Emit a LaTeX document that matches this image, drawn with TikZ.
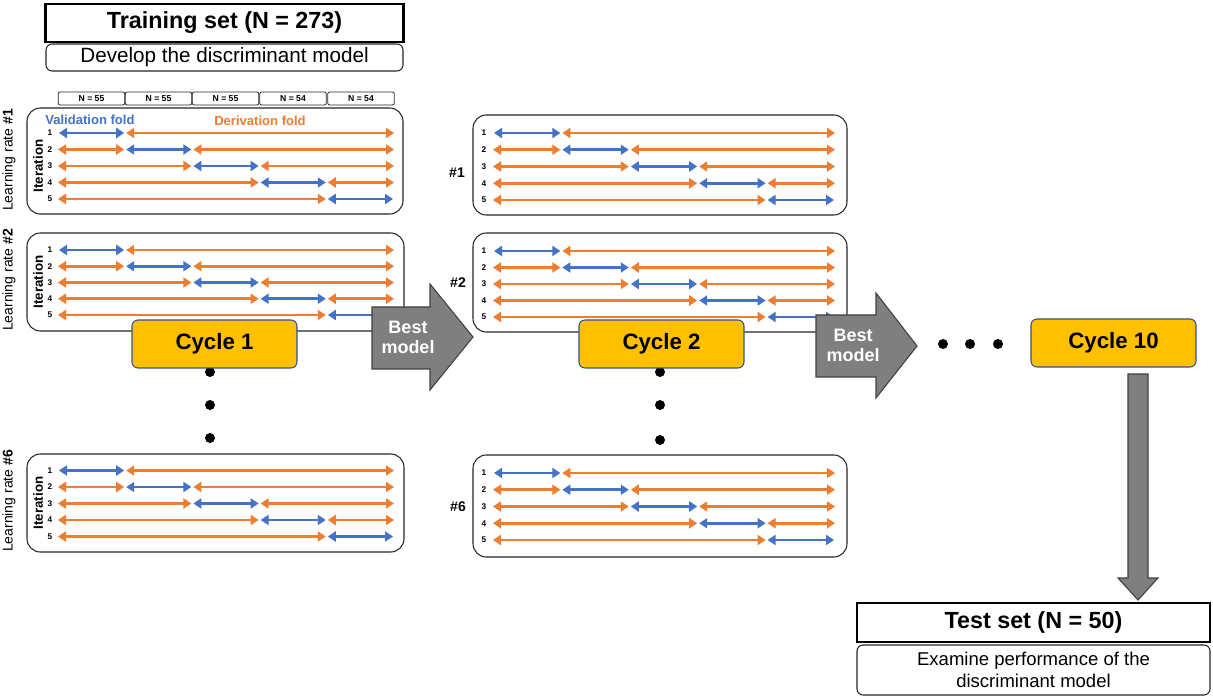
\documentclass[tikz,border=0pt]{standalone}
\usepackage{fontspec}
\setmainfont{Liberation Sans}
\usetikzlibrary{arrows.meta}
\definecolor{fblue}{HTML}{4472C4}
\definecolor{forange}{HTML}{ED7D31}
\definecolor{cycfill}{HTML}{FFC000}
\definecolor{cycdraw}{HTML}{2F528F}
\definecolor{bgray}{HTML}{7F7F7F}
\newcommand{\foldrows}[5]{% #1 xs, #2 xe, #3 y1, #4 dy, #5 number offset
  \foreach \i in {1,...,5}{
    \pgfmathsetmacro{\yy}{#3+(\i-1)*#4}
    \pgfmathsetmacro{\xa}{#1+(\i-1)*(#2-#1)/5}
    \pgfmathsetmacro{\xb}{#1+\i*(#2-#1)/5}
    \node[rownum] at (#1-#5,\yy) {\i};
    \ifnum\i>1 \draw[orangearr] (#1,\yy) -- (\xa-1,\yy); \fi
    \draw[bluearr] (\xa+1,\yy) -- (\xb-1,\yy);
    \ifnum\i<5 \draw[orangearr] (\xb+1,\yy) -- (#2,\yy); \fi
  }}
\begin{document}
\begin{tikzpicture}[x=0.75pt,y=-0.75pt,
  foldarr/.style={line width=2pt,{Triangle[length=6pt,width=7.5pt]}-{Triangle[length=6pt,width=7.5pt]}},
  bluearr/.style={foldarr,draw=fblue},
  orangearr/.style={foldarr,draw=forange},
  rownum/.style={font=\bfseries\fontsize{6.2}{7}\selectfont,inner sep=0pt},
  panelbox/.style={draw=black!85,line width=0.8pt,rounded corners=10pt,fill=white},
  titlebox/.style={draw=black,line width=2.2pt,fill=white,inner sep=0pt,font=\bfseries\fontsize{17.5}{21}\selectfont},
  descbox/.style={draw=black!85,line width=0.8pt,rounded corners=4.5pt,fill=white,inner sep=0pt},
  nbox/.style={draw=black!85,line width=0.6pt,rounded corners=1.5pt,minimum width=50pt,minimum height=9.75pt,inner sep=0pt,font=\bfseries\fontsize{6.5}{7}\selectfont},
  cycbox/.style={draw=cycdraw,line width=0.8pt,fill=cycfill,rounded corners=4.5pt,minimum width=123.75pt,minimum height=36pt,inner sep=0pt,font=\bfseries\fontsize{16.7}{20}\selectfont},
  bigarrow/.style={draw=black!75,line width=0.8pt,fill=bgray},
  besttext/.style={text=white,align=center,inner sep=0pt,font=\bfseries\fontsize{13.5}{15}\selectfont},
  lrlabel/.style={rotate=90,inner sep=0pt,font=\fontsize{10.5}{12}\selectfont},
  iterlabel/.style={rotate=90,inner sep=0pt,font=\bfseries\fontsize{10}{12}\selectfont},
  hashlabel/.style={inner sep=0pt,font=\bfseries\fontsize{10.5}{12}\selectfont},
  bigdot/.style={circle,fill=black,inner sep=0pt,minimum size=7.5pt}]
\useasboundingbox (0,0) rectangle (1213,698);

% Training set
\node[titlebox,minimum width=269pt,minimum height=28.5pt] (train) at (224.5,23) {Training set (N = 273)};
\node[descbox,minimum width=267.75pt,minimum height=20.25pt,font=\fontsize{15.5}{18}\selectfont] (develop) at (224.5,57.5) {Develop the discriminant model};

% N boxes
\foreach \cx/\nn [count=\k] in {91.5/55,158.5/55,225.5/55,293/54,361/54}
  \node[nbox] (n\k) at (\cx,98.5) {N = \nn};

% Column 1 panels
\draw[panelbox] (27,108) rectangle (403,214);
\node[anchor=base west,inner sep=0pt,text=fblue,font=\bfseries\fontsize{9.8}{12}\selectfont] (valid) at (45,125) {Validation fold};
\node[anchor=base,inner sep=0pt,text=forange,font=\bfseries\fontsize{9.8}{12}\selectfont] (deriv) at (260,126) {Derivation fold};
\foldrows{58}{394}{133}{16.5}{8}
\node[iterlabel] (it1) at (38,166) {Iteration};
\node[lrlabel] (lr1) at (9,160) {Learning rate \textbf{\#1}};

\draw[panelbox] (27,233) rectangle (404,331);
\foldrows{58}{394}{250}{16.25}{8}
\node[iterlabel] (it2) at (38,282) {Iteration};
\node[lrlabel] (lr2) at (9,280) {Learning rate \textbf{\#2}};

\draw[panelbox] (27,454) rectangle (404,552);
\foldrows{58}{394}{470.5}{16.5}{8}
\node[iterlabel] (it6) at (38,503) {Iteration};
\node[lrlabel] (lr6) at (9,501) {Learning rate \textbf{\#6}};

% Column 2 panels
\draw[panelbox] (473,115) rectangle (847,215);
\foldrows{493}{835}{133}{16.75}{9}
\node[hashlabel] (h1) at (457,173) {\#1};

\draw[panelbox] (473,233) rectangle (847,332);
\foldrows{493}{835}{251}{16.5}{9}
\node[hashlabel] (h2) at (458,283) {\#2};

\draw[panelbox] (473,455) rectangle (847,557);
\foldrows{493}{835}{473}{16.75}{9}
\node[hashlabel] (h6) at (458,507) {\#6};

% dots
\node[bigdot] (d11) at (210,372) {};
\node[bigdot] (d12) at (210,405) {};
\node[bigdot] (d13) at (210,438) {};
\node[bigdot] (d21) at (660,372) {};
\node[bigdot] (d22) at (660,405) {};
\node[bigdot] (d23) at (660,440) {};
\node[bigdot] (h31) at (943,344) {};
\node[bigdot] (h32) at (970,344) {};
\node[bigdot] (h33) at (998,344) {};

% cycles
\node[cycbox] (c1) at (214.5,344) {Cycle 1};
\node[cycbox] (c2) at (661.5,344) {Cycle 2};
\node[cycbox] (c10) at (1113.5,343) {Cycle 10};

% best model arrows
\draw[bigarrow] (372,307) -- (430,307) -- (430,284) -- (473,337) -- (430,390) -- (430,369) -- (372,369) -- cycle;
\node[besttext] (best1) at (408,337) {Best\\model};
\draw[bigarrow] (816,315) -- (876,315) -- (876,293) -- (917,346) -- (876,398) -- (876,377) -- (816,377) -- cycle;
\node[besttext] (best2) at (853,345) {Best\\model};

% down arrow
\draw[bigarrow] (1128,374) -- (1148,374) -- (1148,578) -- (1158,578) -- (1138,600) -- (1118,578) -- (1128,578) -- cycle;

% Test set
\node[titlebox,minimum width=264.75pt,minimum height=29.25pt] (test) at (1033.5,622.5) {Test set (N = 50)};
\node[descbox,minimum width=264.75pt,minimum height=37.5pt,align=center,font=\fontsize{13.9}{16.5}\selectfont] (examine) at (1033.5,670) {Examine performance of the\\discriminant model};
\end{tikzpicture}
\end{document}
